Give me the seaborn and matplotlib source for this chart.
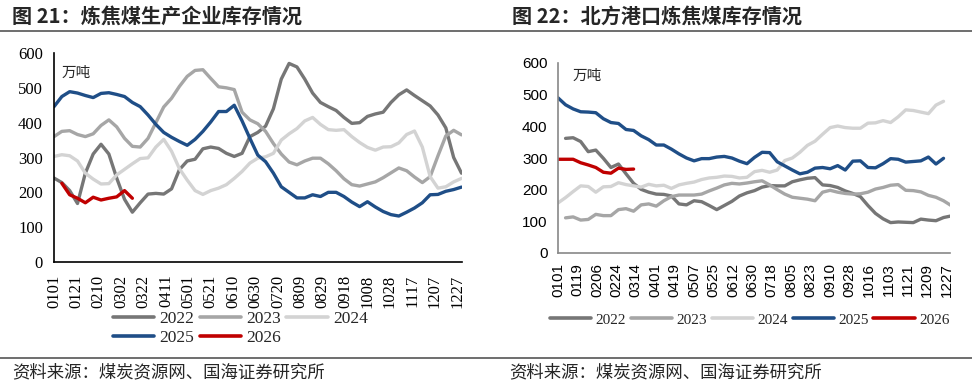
import numpy as np
import pandas as pd
import matplotlib
matplotlib.use("Agg")
import matplotlib.pyplot as plt
from matplotlib.lines import Line2D
import seaborn as sns

nan = np.nan
years = ["2022", "2023", "2024", "2025", "2026"]
colors = ["#767676", "#a6a6a6", "#d3d3d3", "#1f4e87", "#c00000"]

# 图21 炼焦煤生产企业库存（万吨），周度，按自0101起的天数
prod_2022 = [241, 228, 205, 168, 255, 310, 338, 310, 241, 180,
             143, 170, 195, 197, 195, 210, 265, 290, 295, 325,
             330, 326, 312, 303, 312, 360, 372, 390, 440, 525,
             570, 560, 525, 485, 458, 446, 435, 415, 398, 400,
             418, 425, 430, 458, 480, 494, 478, 463, 448, 422,
             385, 300, 255]
prod_2023 = [360, 375, 377, 366, 360, 368, 392, 408, 388, 355,
             332, 330, 355, 400, 445, 470, 504, 533, 550, 552,
             527, 503, 500, 495, 430, 408, 397, 375, 340, 310,
             287, 279, 290, 298, 298, 282, 262, 239, 222, 218,
             224, 230, 242, 256, 270, 262, 244, 228, 245, 305,
             362, 378, 365]
prod_2024 = [303, 308, 305, 290, 255, 238, 224, 225, 250, 266,
             282, 297, 299, 330, 352, 318, 268, 235, 205, 194,
             205, 212, 222, 240, 260, 284, 298, 302, 312, 350,
             368, 383, 405, 415, 395, 380, 378, 380, 360, 343,
             329, 321, 330, 331, 342, 366, 376, 330, 245, 212,
             216, 230, 240]
prod_2025 = [446, 475, 489, 485, 478, 472, 484, 486, 481, 475,
             458, 446, 422, 395, 372, 358, 346, 335, 352, 375,
             402, 432, 432, 450, 405, 355, 307, 288, 255, 216,
             200, 184, 184, 193, 188, 200, 200, 188, 172, 159,
             173, 158, 145, 136, 132, 143, 155, 170, 193, 194,
             203, 208, 215]
prod_2026 = [nan, 226, 193, 183, 170, 186, 178, 183, 187, 205, 183]

# 图22 北方港口炼焦煤库存（万吨）
port_2022 = [nan, 362, 364, 352, 320, 325, 299, 270, 281, 250,
             220, 201, 192, 186, 185, 180, 155, 152, 165, 162,
             150, 137, 150, 163, 180, 190, 197, 208, 213, 212,
             212, 225, 231, 236, 238, 215, 213, 207, 196, 188,
             178, 150, 125, 108, 96, 98, 97, 96, 107, 104,
             102, 112, 117]
port_2023 = [nan, 111, 114, 104, 106, 122, 118, 118, 137, 140,
             132, 152, 155, 148, 165, 178, 183, 183, 183, 186,
             196, 205, 215, 220, 218, 221, 225, 228, 215, 200,
             186, 176, 173, 170, 165, 192, 198, 192, 188, 186,
             187, 192, 202, 207, 214, 216, 198, 197, 193, 182,
             176, 165, 150]
port_2024 = [158, 175, 194, 212, 210, 192, 209, 210, 222, 216,
             212, 208, 217, 212, 214, 204, 215, 220, 224, 232,
             237, 239, 243, 242, 237, 239, 257, 261, 255, 262,
             292, 300, 318, 340, 353, 375, 396, 401, 396, 394,
             394, 410, 411, 418, 412, 430, 452, 450, 445, 440,
             467, 479]
port_2025 = [490, 468, 455, 446, 445, 443, 424, 412, 409, 390,
             387, 370, 358, 341, 341, 328, 313, 300, 291, 298,
             298, 303, 305, 300, 290, 282, 302, 318, 317, 288,
             275, 262, 250, 255, 268, 270, 266, 276, 262, 290,
             291, 270, 269, 282, 298, 296, 287, 289, 291, 303,
             281, 299]
port_2026 = [296, 296, 296, 285, 278, 270, 255, 252, 268, 264, 265]

left_ticks = ["0101", "0121", "0210", "0302", "0322", "0411", "0501", "0521",
              "0610", "0630", "0720", "0809", "0829", "0918", "1008", "1028",
              "1117", "1207", "1227"]
right_ticks = ["0101", "0119", "0206", "0224", "0314", "0401", "0419", "0507",
               "0525", "0612", "0630", "0718", "0805", "0823", "0910", "0928",
               "1016", "1103", "1121", "1209", "1227"]
y_ticks = [0, 100, 200, 300, 400, 500, 600]


def long_df(series):
    parts = []
    for y, vals in zip(years, series):
        parts.append(pd.DataFrame({"day": np.arange(len(vals)) * 7,
                                   "value": vals, "year": y}))
    return pd.concat(parts, ignore_index=True).dropna()


sns.set_style("white")
plt.rcParams["font.family"] = ["Liberation Serif", "Noto Sans CJK SC"]
pal = dict(zip(years, colors))
cjk = ["Noto Sans CJK SC", "DejaVu Sans"]

fig = plt.figure(figsize=(9.72, 3.86), dpi=100)
W, H = 972, 386


def box(x0, x1, ytop, ybot):
    return [x0 / W, 1 - ybot / H, (x1 - x0) / W, (ybot - ytop) / H]


# ---- left panel
ax1 = fig.add_axes(box(54, 461.5, 53, 262))
sns.lineplot(data=long_df([prod_2022, prod_2023, prod_2024, prod_2025, prod_2026]),
             x="day", y="value", hue="year", palette=pal, linewidth=2.4,
             estimator=None, legend=False, ax=ax1)
ax1.set_xlim(0, 364)
ax1.set_ylim(0, 600)
ax1.set_xticks(np.arange(len(left_ticks)) * 20, labels=left_ticks, rotation=90,
               fontfamily="Liberation Serif", fontsize=12)
ax1.set_yticks(y_ticks, labels=[str(v) for v in y_ticks],
               fontfamily="Liberation Serif", fontsize=12)
ax1.tick_params(direction="in", length=4, width=1, colors="black")
ax1.tick_params(axis="x", pad=9)
ax1.tick_params(axis="y", pad=8)
ax1.set_xlabel("")
ax1.set_ylabel("")
for s in ["top", "right"]:
    ax1.spines[s].set_visible(False)
for s in ["left", "bottom"]:
    ax1.spines[s].set_color("black")
    ax1.spines[s].set_linewidth(1.2)
fig.text(62 / W, 1 - 73 / H, "万吨", family=cjk, fontsize=10.5, va="center")

handles = [Line2D([], [], color=c, lw=2.6) for c in colors]
order = [0, 3, 1, 4, 2]  # column-major fill -> rows 2022 2023 2024 / 2025 2026
fig.legend([handles[i] for i in order], [years[i] for i in order],
           loc="upper left", bbox_to_anchor=(97 / W, 1 - 295 / H),
           ncol=3, frameon=False, fontsize=12.5, handlelength=2.4,
           handletextpad=0.3, columnspacing=0.3, labelspacing=0.2)

# ---- right panel
ax2 = fig.add_axes(box(558, 950, 63, 253))
sns.lineplot(data=long_df([port_2022, port_2023, port_2024, port_2025, port_2026]),
             x="day", y="value", hue="year", palette=pal, linewidth=2.4,
             estimator=None, legend=False, ax=ax2)
ax2.set_xlim(0, 363)
ax2.set_ylim(0, 600)
ax2.set_xticks(np.arange(len(right_ticks)) * 18, labels=right_ticks, rotation=90,
               fontfamily="Liberation Sans", fontsize=11)
ax2.set_yticks(y_ticks, labels=[str(v) for v in y_ticks],
               fontfamily="Liberation Sans", fontsize=11)
ax2.tick_params(direction="out", length=4, width=1,
                colors="#888888", labelcolor="black")
ax2.set_xlabel("")
ax2.set_ylabel("")
for s in ["top", "right"]:
    ax2.spines[s].set_visible(False)
for s in ["left", "bottom"]:
    ax2.spines[s].set_color("#888888")
    ax2.spines[s].set_linewidth(1.2)
fig.text(573 / W, 1 - 76 / H, "万吨", family=cjk, fontsize=10.5, va="center")

fig.legend(handles, years, loc="center left", bbox_to_anchor=(536 / W, 1 - 320 / H),
           ncol=5, frameon=False, fontsize=11, handlelength=2.7,
           handletextpad=0.3, columnspacing=0.3)

# ---- titles, rules, sources
fig.text(12 / W, 1 - 16 / H, "图 21：炼焦煤生产企业库存情况", family=cjk,
         fontweight="bold", fontsize=14.5, va="center")
fig.text(512 / W, 1 - 16 / H, "图 22：北方港口炼焦煤库存情况", family=cjk,
         fontweight="bold", fontsize=14.5, va="center")
for yy in [31, 358]:
    fig.add_artist(Line2D([0, 1], [1 - yy / H] * 2, color="#555555", lw=1.2,
                          transform=fig.transFigure))
fig.text(12 / W, 1 - 372 / H, "资料来源：煤炭资源网、国海证券研究所", family=cjk,
         fontsize=12.5, va="center")
fig.text(509 / W, 1 - 372 / H, "资料来源：煤炭资源网、国海证券研究所", family=cjk,
         fontsize=12.5, va="center")

fig.savefig("out.png", dpi=100)
